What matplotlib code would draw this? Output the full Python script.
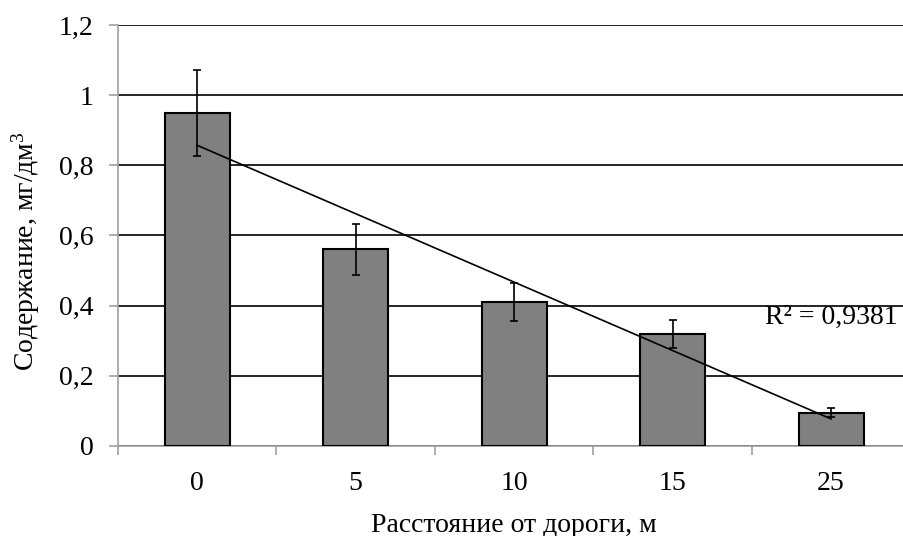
import numpy as np
import matplotlib.pyplot as plt
from matplotlib.ticker import FuncFormatter

distances = ["0", "5", "10", "15", "25"]
content = [0.95, 0.56, 0.41, 0.32, 0.095]
errors = [0.123, 0.073, 0.055, 0.04, 0.012]
r2_text = "R² = 0,9381"

plt.rcParams['font.family'] = ['Liberation Serif', 'DejaVu Serif']
plt.rcParams['mathtext.fontset'] = 'custom'
plt.rcParams['mathtext.rm'] = 'Liberation Serif'

fig = plt.figure(figsize=(9.04, 5.36), dpi=100)
ax = fig.add_axes([0.1305, 0.168, 0.8765, 0.7854])

x = np.arange(len(distances))
ax.bar(x, content, width=0.41, color="#808080", edgecolor="black", linewidth=1.5, zorder=3)
ax.errorbar(x, content, yerr=errors, fmt="none", ecolor="black", elinewidth=1.2,
            capsize=3.2, capthick=1.2, zorder=4)

# linear trend over category index
k, b = np.polyfit(x + 1, content, 1)
ax.plot([x[0], x[-1]], [k * 1 + b, k * len(x) + b], color="black", linewidth=1.2, zorder=5)
ax.text(0.984, 0.305, r2_text, transform=ax.transAxes, ha="right", va="center", fontsize=20)

ax.set_xlim(-0.5, len(x) - 0.5)
ax.set_ylim(0, 1.2)
ax.set_yticks(np.arange(0, 1.21, 0.2))
ax.yaxis.set_major_formatter(FuncFormatter(lambda v, p: ("%g" % round(v, 1)).replace(".", ",")))
ax.yaxis.grid(True, color="black", linewidth=1.2, zorder=0)
ax.set_axisbelow(True)

ax.set_xticks(np.arange(-0.5, len(x), 1.0))
ax.set_xticklabels([])
ax.set_xticks(x, minor=True)
ax.set_xticklabels(distances, minor=True)
ax.tick_params(axis="x", which="minor", length=0, pad=18, labelsize=20)
ax.tick_params(axis="x", which="major", length=6.5, color="#a0a0a0", width=1.2)
ax.tick_params(axis="y", length=6.5, color="#a0a0a0", width=1.2, labelsize=20, pad=11)

for side in ["top", "right"]:
    ax.spines[side].set_visible(False)
for side in ["left", "bottom"]:
    ax.spines[side].set_color("#a0a0a0")
    ax.spines[side].set_linewidth(1.2)

ax.set_xlabel("Расстояние от дороги, м", fontsize=20, labelpad=12)
ax.set_ylabel("Содержание, мг/дм$\\mathregular{^3}$", fontsize=20)
ax.yaxis.set_label_coords(-0.096, 0.463)

fig.savefig("out.png", dpi=100)
